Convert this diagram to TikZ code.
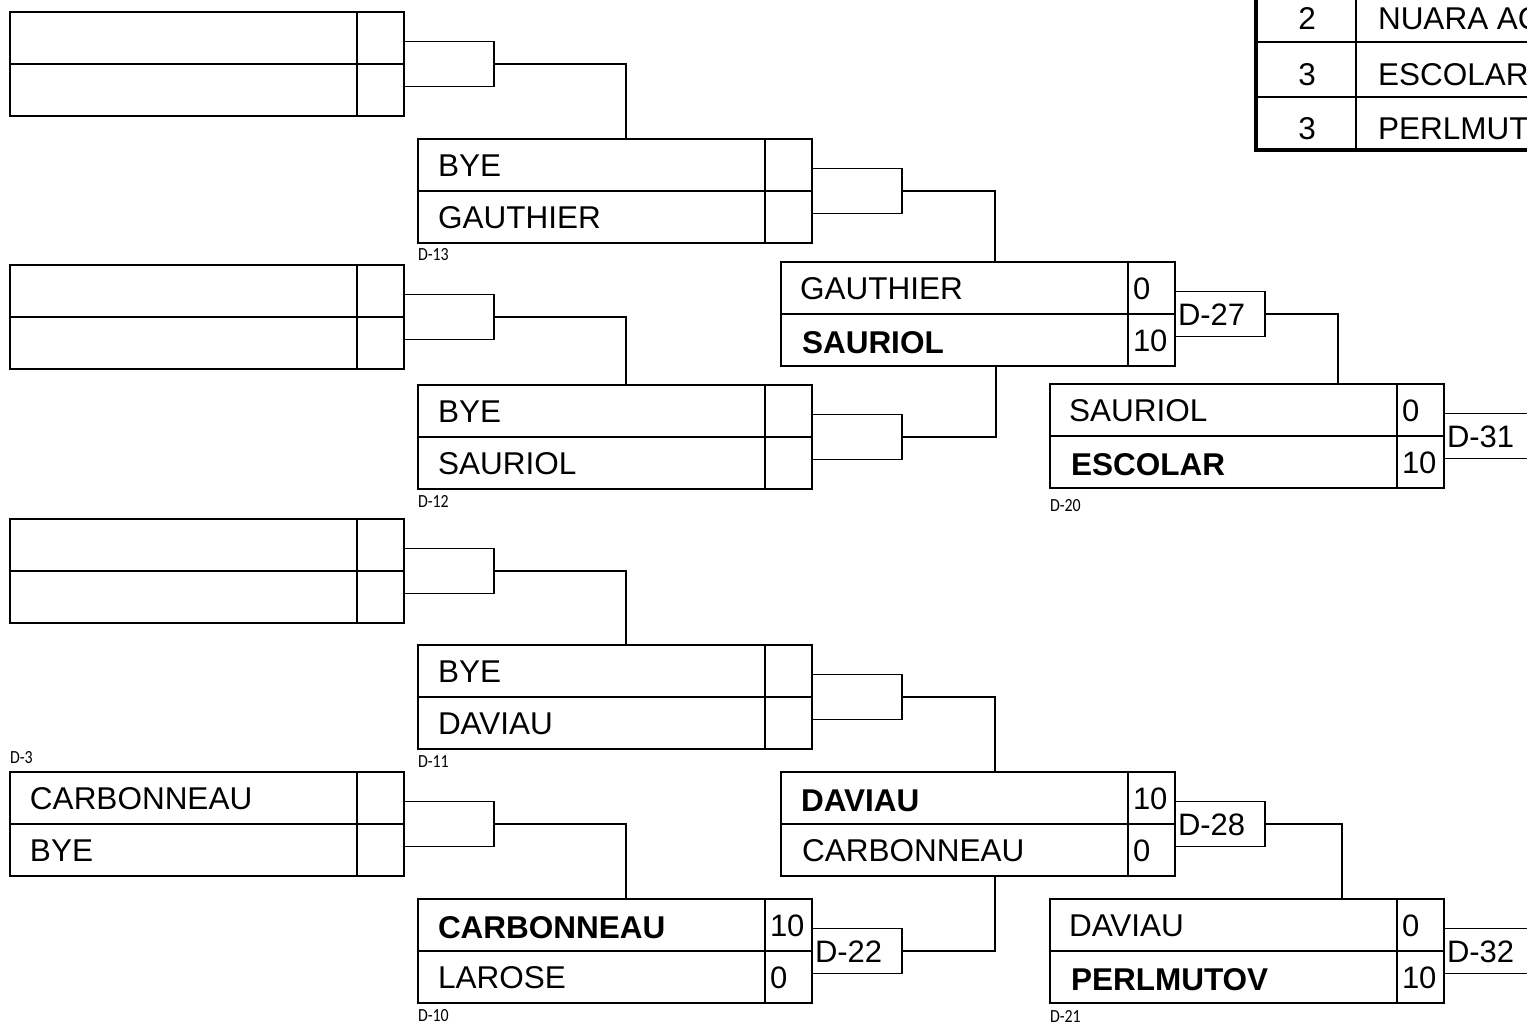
\documentclass[tikz,border=0pt]{standalone}
\usepackage{fontspec}
\setmainfont{Liberation Sans}
\newfontfamily\smallfont[FakeStretch=0.86]{Carlito}
\tikzset{
 every node/.style={outer sep=0pt},
 boxnode/.style={draw, line width=2pt, minimum width=394pt, minimum height=104pt, inner sep=0pt, anchor=north west},
 innerline/.style={line width=1.8pt},
 brk/.style={draw, line width=1.5pt, minimum width=90pt, minimum height=45pt, inner sep=0pt, anchor=west},
 conn/.style={line width=1.5pt},
 nm/.style={font=\fontsize{31.5}{31.5}\selectfont, inner sep=0pt, anchor=west, text height=22.5pt, text depth=0pt},
 nmb/.style={nm, font=\fontsize{31.5}{31.5}\selectfont\bfseries},
 sc/.style={nm, font=\fontsize{31}{31}\selectfont, text height=22pt},
 tb/.style={nm},
 tbc/.style={nm, anchor=center},
 lbl/.style={font=\smallfont\fontsize{18.5}{18.5}\selectfont, inner sep=0pt, anchor=west, text height=11.9pt, text depth=0pt},
}
\newcommand\matchbox[3]{%
  \node[boxnode] (#1) at (#2,#3) {};
  \draw[innerline] (#1.west) -- (#1.east);
  \draw[innerline] ([xshift=-47pt]#1.north east) -- ([xshift=-47pt]#1.south east);
  \node[brk] (#1br) at (#1.east) {};
}
\begin{document}
\begin{tikzpicture}[x=1pt,y=-1pt]
\useasboundingbox (0,0) rectangle (1527,1025);
\clip (0,0) rectangle (1527,1025);
% round 1
\matchbox{A1}{10}{12}
\matchbox{A2}{10}{265}
\matchbox{A3}{10}{519}
\matchbox{A4}{10}{772}
% round 2
\matchbox{B1}{418}{139}
\matchbox{B2}{418}{385}
\matchbox{B3}{418}{645}
\matchbox{B4}{418}{899}
% round 3
\matchbox{C1}{781}{262}
\matchbox{C2}{781}{772}
% round 4
\matchbox{D1}{1050}{384}
\matchbox{D2}{1050}{899}

% texts round 1
\node[lbl] (lA4) at ([yshift=14.5pt]A4.north west) {D-3};
\node[nm] (A4t) at ([xshift=20pt,yshift=26pt]A4.west) {CARBONNEAU};
\node[nm] (A4b) at ([xshift=20pt,yshift=-26pt]A4.west) {BYE};

% texts round 2
\node[nm] (B1t) at ([xshift=20pt,yshift=26pt]B1.west) {BYE};
\node[nm] (B1b) at ([xshift=20pt,yshift=-26pt]B1.west) {GAUTHIER};
\node[lbl] (lB1) at ([yshift=-12pt]B1.south west) {D-13};
\node[nm] (B2t) at ([xshift=20pt,yshift=26pt]B2.west) {BYE};
\node[nm] (B2b) at ([xshift=20pt,yshift=-26pt]B2.west) {SAURIOL};
\node[lbl] (lB2) at ([yshift=-12.5pt]B2.south west) {D-12};
\node[nm] (B3t) at ([xshift=20pt,yshift=26pt]B3.west) {BYE};
\node[nm] (B3b) at ([xshift=20pt,yshift=-26pt]B3.west) {DAVIAU};
\node[lbl] (lB3) at ([yshift=-13pt]B3.south west) {D-11};
\node[nmb] (B4t) at ([xshift=20pt,yshift=24pt]B4.west) {CARBONNEAU};
\node[nm] (B4b) at ([xshift=20pt,yshift=-26pt]B4.west) {LAROSE};
\node[sc] (B4ts) at ([xshift=-42pt,yshift=26pt]B4.east) {10};
\node[sc] (B4bs) at ([xshift=-42pt,yshift=-26pt]B4.east) {0};
\node[sc] (B4l) at ([xshift=3pt]B4br.west) {D-22};
\node[lbl] (lB4) at ([yshift=-12.5pt]B4.south west) {D-10};

% texts round 3
\node[nm] (C1t) at ([xshift=19pt,yshift=26pt]C1.west) {GAUTHIER};
\node[nmb] (C1b) at ([xshift=21pt,yshift=-28pt]C1.west) {SAURIOL};
\node[sc] (C1ts) at ([xshift=-42pt,yshift=26pt]C1.east) {0};
\node[sc] (C1bs) at ([xshift=-42pt,yshift=-26pt]C1.east) {10};
\node[sc] (C1l) at ([xshift=3pt]C1br.west) {D-27};
\node[nmb] (C2t) at ([xshift=20pt,yshift=24pt]C2.west) {DAVIAU};
\node[nm] (C2b) at ([xshift=21pt,yshift=-26pt]C2.west) {CARBONNEAU};
\node[sc] (C2ts) at ([xshift=-42pt,yshift=26pt]C2.east) {10};
\node[sc] (C2bs) at ([xshift=-42pt,yshift=-26pt]C2.east) {0};
\node[sc] (C2l) at ([xshift=3pt]C2br.west) {D-28};

% texts round 4
\node[nm] (D1t) at ([xshift=19pt,yshift=26pt]D1.west) {SAURIOL};
\node[nmb] (D1b) at ([xshift=21pt,yshift=-28pt]D1.west) {ESCOLAR};
\node[sc] (D1ts) at ([xshift=-42pt,yshift=26pt]D1.east) {0};
\node[sc] (D1bs) at ([xshift=-42pt,yshift=-26pt]D1.east) {10};
\node[sc] (D1l) at ([xshift=3pt]D1br.west) {D-31};
\node[lbl] (lD1) at ([yshift=-18pt]D1.south west) {D-20};
\node[nm] (D2t) at ([xshift=19pt,yshift=26pt]D2.west) {DAVIAU};
\node[nmb] (D2b) at ([xshift=21pt,yshift=-28pt]D2.west) {PERLMUTOV};
\node[sc] (D2ts) at ([xshift=-42pt,yshift=26pt]D2.east) {0};
\node[sc] (D2bs) at ([xshift=-42pt,yshift=-26pt]D2.east) {10};
\node[sc] (D2l) at ([xshift=3pt]D2br.west) {D-32};
\node[lbl] (lD2) at ([yshift=-13.5pt]D2.south west) {D-21};

% connectors
\draw[conn] (A1br.east) -| ([xshift=208pt]B1.north west);
\draw[conn] (A2br.east) -| ([xshift=208pt]B2.north west);
\draw[conn] (A3br.east) -| ([xshift=208pt]B3.north west);
\draw[conn] (A4br.east) -| ([xshift=208pt]B4.north west);
\draw[conn] (B1br.east) -| ([xshift=214pt]C1.north west);
\draw[conn] (B2br.east) -| ([xshift=215pt]C1.south west);
\draw[conn] (B3br.east) -| ([xshift=214pt]C2.north west);
\draw[conn] (B4br.east) -| ([xshift=214pt]C2.south west);
\draw[conn] (C1br.east) -| ([xshift=288pt]D1.north west);
\draw[conn] (C2br.east) -| ([xshift=292pt]D2.north west);

% standings table (cut by the page edge)
\draw[line width=1.8pt] (1256,42) -- (1560,42);
\draw[line width=1.8pt] (1256,97) -- (1560,97);
\draw[line width=1.8pt] (1356,-20) -- (1356,150);
\draw[line width=3.2pt] (1256,-20) -- (1256,150) -- (1560,150);
\node[tbc] (r1n) at (1307,18) {2};
\node[tb] (r1) at (1378,18) {NUARA AC};
\node[tbc] (r2n) at (1307,74.5) {3};
\node[tb] (r2) at (1378,74.5) {ESCOLAR};
\node[tbc] (r3n) at (1307,128) {3};
\node[tb] (r3) at (1378,128) {PERLMUTOV};
\end{tikzpicture}
\end{document}
